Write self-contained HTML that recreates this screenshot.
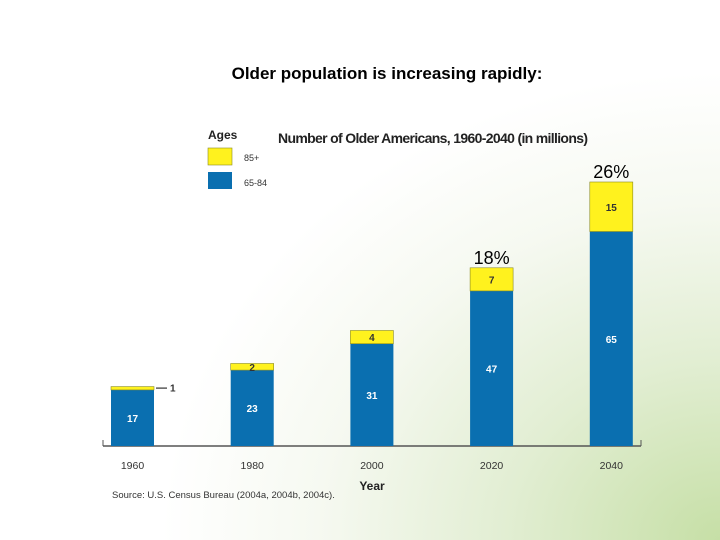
<!DOCTYPE html>
<html><head><meta charset="utf-8"><style>
body{margin:0;width:720px;height:540px;overflow:hidden;font-family:"Liberation Sans",sans-serif;}
#bg{position:absolute;left:0;top:0;width:720px;height:540px;background:radial-gradient(ellipse 620px 520px at 720px 540px,#c6dfa6 0%,#e2eed3 35%,#f6f9f1 65%,#ffffff 90%);}
</style></head><body>
<div id="bg"></div>
<svg id="c" width="720" height="540" style="position:absolute;left:0;top:0">
<text x="387" y="79" font-size="17" font-weight="bold" text-anchor="middle" fill="#000">Older population is increasing rapidly:</text>
<text x="208" y="139" font-size="12" font-weight="bold" fill="#222">Ages</text>
<rect x="208" y="148" width="24" height="17" fill="#fff21e" stroke="#8a8a20" stroke-width="0.6"/>
<text x="244" y="161" font-size="9" fill="#333">85+</text>
<rect x="208" y="172" width="24" height="17" fill="#0a6fb0"/>
<text x="244" y="186" font-size="9" fill="#333">65-84</text>
<text x="278" y="143" font-size="14" font-weight="bold" fill="#222" textLength="310">Number of Older Americans, 1960-2040 (in millions)</text>
<line x1="103" y1="446" x2="641" y2="446" stroke="#555" stroke-width="1.5"/>
<line x1="103" y1="440" x2="103" y2="446" stroke="#555"/>
<line x1="641" y1="440" x2="641" y2="446" stroke="#555"/>
<g id="bars"></g>
<text x="372" y="490" font-size="12" font-weight="bold" fill="#222" text-anchor="middle">Year</text>
<text x="112" y="498" font-size="9.5" fill="#333">Source: U.S. Census Bureau (2004a, 2004b, 2004c).</text>
</svg>
<script>
const years=["1960","1980","2000","2020","2040"];
const young=[17,23,31,47,65];
const old=[1,2,4,7,15];
const pcts=["","","","18%","26%"];
const base=446,scale=3.3,x0=111,step=119.7,bw=43;
const y=v=>base-v*scale;
const g=document.getElementById('bars');
const NS='http://www.w3.org/2000/svg';
function mk(t,a){const e=document.createElementNS(NS,t);for(const k in a)e.setAttribute(k,a[k]);g.appendChild(e);return e;}
years.forEach((yr,i)=>{
 const x=x0+i*step;
 const b=mk('rect',{x:x,y:y(young[i]),width:bw,height:young[i]*scale,fill:'#0a6fb0'});
 
 
 const o=mk('rect',{x:x,y:y(young[i]+old[i]),width:bw,height:old[i]*scale,fill:'#fff21e',stroke:'#8a8a20','stroke-width':0.6});
 
 
 const lt=mk('text',{x:x+bw/2,y:(y(young[i])+base)/2+4,'font-size':10,'font-weight':'bold',fill:'#fff','text-anchor':'middle'});
 lt.textContent=young[i];
 
 
 let ot;
 if(old[i]>=2){ot=mk('text',{x:x+bw/2,y:(y(young[i]+old[i])+y(young[i]))/2+4,'font-size':10,'font-weight':'bold',fill:'#333','text-anchor':'middle'});}
 else{ot=mk('text',{x:x+bw+16,y:y(young[i]+old[i])+5,'font-size':10,'font-weight':'bold',fill:'#333'});
  const ar=mk('line',{x1:x+bw+2,y1:y(young[i]+old[i])+1.5,x2:x+bw+13,y2:y(young[i]+old[i])+1.5,stroke:'#333','stroke-width':1.2});
  
  }
 ot.textContent=old[i];
 
 
 const xl=mk('text',{x:x+bw/2,y:469,'font-size':10.5,fill:'#333','text-anchor':'middle'});
 xl.textContent=yr;
 
 
 if(pcts[i]){const p=mk('text',{x:x+bw/2,y:y(young[i]+old[i])-4,'font-size':18,fill:'#000','text-anchor':'middle'});
  p.textContent=pcts[i];
  
  }
});
</script>
</body></html>
